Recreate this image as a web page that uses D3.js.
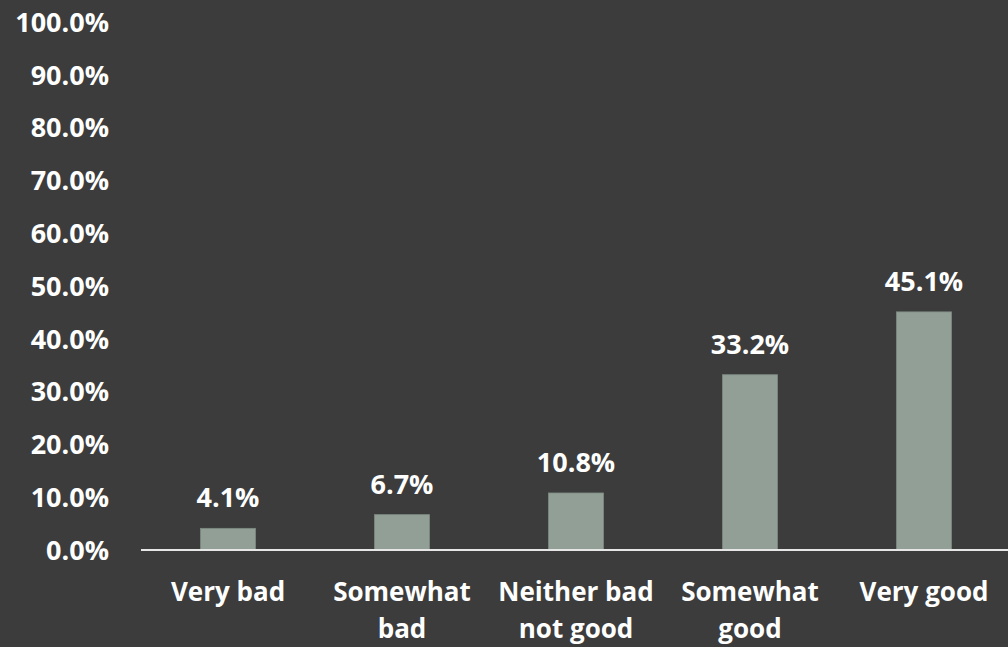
<!DOCTYPE html>
<html>
<head>
<meta charset="utf-8">
<script src="https://cdn.jsdelivr.net/npm/d3@7"></script>
<style>
  html, body { margin: 0; padding: 0; background: #3c3c3c; }
  svg text { font-family: "Open Sans", Lato, sans-serif; font-weight: bold; fill: #ffffff; }
</style>
</head>
<body>
<svg id="main-svg" width="1008" height="647"></svg>
<script>
(function() {

    // data
    var categories = ["Very bad", "Somewhat bad", "Neither bad not good", "Somewhat good", "Very good"];
    var catLines = [["Very bad"], ["Somewhat", "bad"], ["Neither bad", "not good"], ["Somewhat", "good"], ["Very good"]];
    var values = [4.1, 6.7, 10.8, 33.2, 45.1];
    var yTicks = [0, 10, 20, 30, 40, 50, 60, 70, 80, 90, 100];

    var svg = d3.select("#main-svg");

    svg.append("rect")
    .attr("width", 1008)
    .attr("height", 647)
    .attr("fill", "#3c3c3c");

    var x = d3.scaleBand()
    .domain(categories)
    .range([141, 1011])
    .paddingInner(0.684)
    .paddingOuter(0.342);

    var y = d3.scaleLinear()
    .domain([0, 100])
    .range([550, 22]);

    // y labels
    svg.selectAll(".ylab")
    .data(yTicks)
    .enter()
    .append("text")
    .classed("ylab", true)
    .attr("x", 109)
    .attr("y", function(d) { return y(d); })
    .attr("dy", "0.36em")
    .attr("text-anchor", "end")
    .attr("font-size", 27)
    .text(function(d) { return d.toFixed(1) + "%"; });

    // bars
    svg.selectAll(".bar")
    .data(values)
    .enter()
    .append("rect")
    .classed("bar", true)
    .attr("x", function(d, i) { return x(categories[i]); })
    .attr("y", function(d) { return y(d); })
    .attr("width", x.bandwidth())
    .attr("height", function(d) { return y(0) - y(d); })
    .attr("fill", "#919f96")
    .attr("stroke", "#7d8a82")
    .attr("stroke-width", 0.8);

    // value labels
    svg.selectAll(".vlab")
    .data(values)
    .enter()
    .append("text")
    .classed("vlab", true)
    .attr("x", function(d, i) { return x(categories[i]) + x.bandwidth() / 2; })
    .attr("y", function(d) { return y(d) - 21; })
    .attr("text-anchor", "middle")
    .attr("font-size", 27)
    .text(function(d) { return d.toFixed(1) + "%"; });

    // axis line
    svg.append("line")
    .attr("x1", 141)
    .attr("x2", 1008)
    .attr("y1", y(0))
    .attr("y2", y(0))
    .attr("stroke", "#e6e6e6")
    .attr("stroke-width", 2);

    // category labels
    svg.selectAll(".clab")
    .data(categories)
    .enter()
    .append("text")
    .classed("clab", true)
    .attr("x", function(d) { return x(d) + x.bandwidth() / 2; })
    .attr("y", 601)
    .attr("text-anchor", "middle")
    .attr("font-size", 26)
    .each(function(d, i) {
        var t = d3.select(this);
        catLines[i].forEach(function(line, j) {
            t.append("tspan")
            .attr("x", x(d) + x.bandwidth() / 2)
            .attr("y", 601 + j * 37)
            .text(line);
        });
    });
})();
</script>
</body>
</html>
